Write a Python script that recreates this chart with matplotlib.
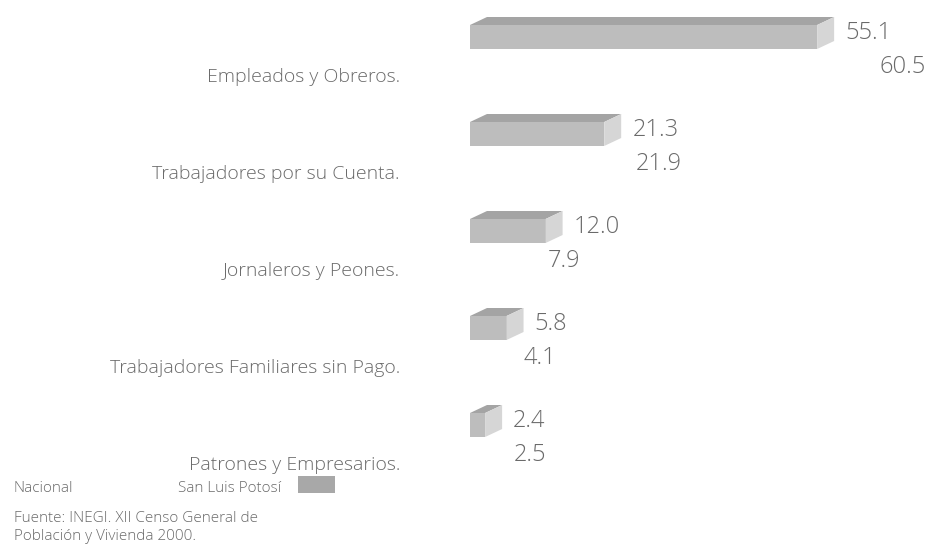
import matplotlib

matplotlib.use("Agg")
import matplotlib.pyplot as plt
from matplotlib.patches import Polygon, Rectangle
import numpy as np

categories = ["Empleados y Obreros.", "Trabajadores por su Cuenta.",
              "Jornaleros y Peones.", "Trabajadores Familiares sin Pago.",
              "Patrones y Empresarios."]
slp = [55.1, 21.3, 12.0, 5.8, 2.4]
nacional = [60.5, 21.9, 7.9, 4.1, 2.5]

W, H = 937, 548
GRAY_FRONT = "#bdbdbd"
GRAY_TOP = "#a4a4a4"
GRAY_SIDE = "#d6d6d6"
TXT = "#6a6a6a"
FONT = "Open Sans"

fig = plt.figure(figsize=(W / 100, H / 100), dpi=100)
fig.patch.set_facecolor("white")

# bar axes: x in data units, y in "group" units (pixel-aligned)
x0 = 470
scale = 6.3   # px per unit
y_first = 37
gpx = 97      # px between groups
ax = fig.add_axes([x0 / W, 0, (W - x0) / W, 1])
ax.set_xlim(0, (W - x0) / scale)
ax.set_ylim((H - y_first) / gpx, -y_first / gpx)
ax.axis("off")

bh = 24 / gpx
dx, dy = 17 / scale, 8 / gpx  # 3d depth
y = np.arange(len(categories))

for yi, v, vn in zip(y, slp, nacional):
    # San Luis Potosí bar (gray, pseudo-3D)
    top = yi - bh / 2
    ax.add_patch(Rectangle((0, top), v, bh, facecolor=GRAY_FRONT, edgecolor="none"))
    ax.add_patch(Polygon([(0, top), (dx, top - dy), (v + dx, top - dy), (v, top)],
                         closed=True, facecolor=GRAY_TOP, edgecolor="none"))
    ax.add_patch(Polygon([(v, top), (v + dx, top - dy), (v + dx, top + bh - dy),
                          (v, top + bh)], closed=True, facecolor=GRAY_SIDE,
                         edgecolor="none"))
    ax.annotate(f"{v:.1f}", (v + dx, yi - 4 / gpx), xytext=(8, 0),
                textcoords="offset points", va="center", ha="left",
                fontsize=17, color=TXT, family=FONT, fontweight="light")
    # Nacional bar (white, invisible on the page)
    yn = yi + 33 / gpx
    ax.add_patch(Rectangle((0, yn - bh / 2), vn, bh, facecolor="white",
                           edgecolor="none"))
    ax.annotate(f"{vn:.1f}", (vn + dx, yn - 3 / gpx), xytext=(8, 0),
                textcoords="offset points", va="center", ha="left",
                fontsize=17, color=TXT, family=FONT, fontweight="light")
    # category label
    ax.annotate(categories[int(yi)], (0, yi + 40 / gpx), xytext=(-70, 0),
                textcoords="offset pixels", ha="right", va="center",
                fontsize=14, color=TXT, family=FONT, fontweight="light",
                annotation_clip=False)

# legend
fig.text(14 / W, 1 - 489 / H, "Nacional", ha="left", va="center", fontsize=11,
         color=TXT, family=FONT, fontweight="light")
fig.text(178 / W, 1 - 489 / H, "San Luis Potosí", ha="left", va="center",
         fontsize=11, color=TXT, family=FONT, fontweight="light")
fig.patches.append(Rectangle((298 / W, 1 - 493 / H), 37 / W, 17 / H,
                             transform=fig.transFigure, facecolor="#a8a8a8",
                             edgecolor="none"))

fig.text(14 / W, 1 - 518 / H, "Fuente: INEGI. XII Censo General de",
         ha="left", va="center", fontsize=11, color=TXT, family=FONT,
         fontweight="light")
fig.text(14 / W, 1 - 537 / H, "Población y Vivienda 2000.",
         ha="left", va="center", fontsize=11, color=TXT, family=FONT,
         fontweight="light")

fig.savefig("out.png", dpi=100)
